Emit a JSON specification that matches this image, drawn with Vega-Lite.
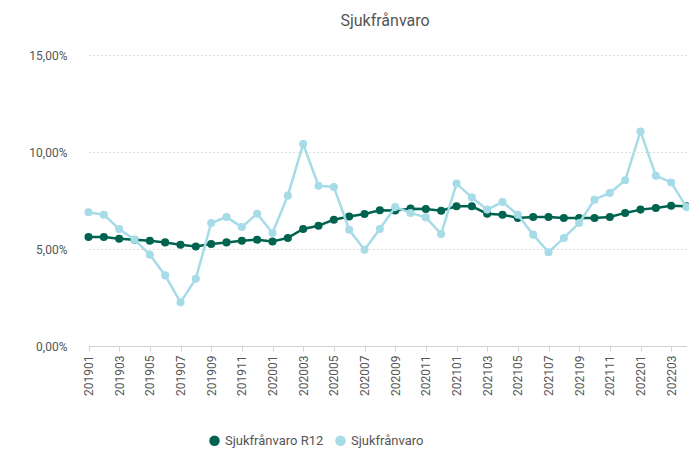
{
  "$schema": "https://vega.github.io/schema/vega-lite/v6.json",
  "width": 608,
  "height": 291,
  "autosize": {"type": "none"},
  "padding": {"left": 81, "top": 55, "right": 0, "bottom": 115},
  "background": "white",
  "title": {"text": "Sjukfrånvaro", "anchor": "middle", "frame": "group", "fontSize": 16, "fontWeight": "normal", "color": "#555555", "font": "Roboto", "offset": 20},
  "config": {"view": {"stroke": null}, "font": "Roboto"},
  "datasets": {
    "r12": [
      {"m": "201901", "v": 5.62}, {"m": "201902", "v": 5.62}, {"m": "201903", "v": 5.53}, {"m": "201904", "v": 5.48},
      {"m": "201905", "v": 5.43}, {"m": "201906", "v": 5.34}, {"m": "201907", "v": 5.22}, {"m": "201908", "v": 5.13},
      {"m": "201909", "v": 5.26}, {"m": "201910", "v": 5.34}, {"m": "201911", "v": 5.43}, {"m": "201912", "v": 5.48},
      {"m": "202001", "v": 5.39}, {"m": "202002", "v": 5.57}, {"m": "202003", "v": 6.03}, {"m": "202004", "v": 6.2},
      {"m": "202005", "v": 6.51}, {"m": "202006", "v": 6.68}, {"m": "202007", "v": 6.8}, {"m": "202008", "v": 7.0},
      {"m": "202009", "v": 6.98}, {"m": "202010", "v": 7.08}, {"m": "202011", "v": 7.06}, {"m": "202012", "v": 6.97},
      {"m": "202101", "v": 7.2}, {"m": "202102", "v": 7.2}, {"m": "202103", "v": 6.82}, {"m": "202104", "v": 6.77},
      {"m": "202105", "v": 6.6}, {"m": "202106", "v": 6.65}, {"m": "202107", "v": 6.65}, {"m": "202108", "v": 6.6},
      {"m": "202109", "v": 6.6}, {"m": "202110", "v": 6.6}, {"m": "202111", "v": 6.65}, {"m": "202112", "v": 6.86},
      {"m": "202201", "v": 7.03}, {"m": "202202", "v": 7.11}, {"m": "202203", "v": 7.23}, {"m": "202204", "v": 7.2}
    ],
    "sf": [
      {"m": "201901", "v": 6.89}, {"m": "201902", "v": 6.77}, {"m": "201903", "v": 6.03}, {"m": "201904", "v": 5.48},
      {"m": "201905", "v": 4.71}, {"m": "201906", "v": 3.64}, {"m": "201907", "v": 2.25}, {"m": "201908", "v": 3.47},
      {"m": "201909", "v": 6.34}, {"m": "201910", "v": 6.65}, {"m": "201911", "v": 6.13}, {"m": "201912", "v": 6.82},
      {"m": "202001", "v": 5.82}, {"m": "202002", "v": 7.75}, {"m": "202003", "v": 10.41}, {"m": "202004", "v": 8.26},
      {"m": "202005", "v": 8.2}, {"m": "202006", "v": 5.99}, {"m": "202007", "v": 4.96}, {"m": "202008", "v": 6.03},
      {"m": "202009", "v": 7.16}, {"m": "202010", "v": 6.86}, {"m": "202011", "v": 6.63}, {"m": "202012", "v": 5.77},
      {"m": "202101", "v": 8.37}, {"m": "202102", "v": 7.66}, {"m": "202103", "v": 7.03}, {"m": "202104", "v": 7.42},
      {"m": "202105", "v": 6.77}, {"m": "202106", "v": 5.74}, {"m": "202107", "v": 4.83}, {"m": "202108", "v": 5.57},
      {"m": "202109", "v": 6.34}, {"m": "202110", "v": 7.54}, {"m": "202111", "v": 7.89}, {"m": "202112", "v": 8.54},
      {"m": "202201", "v": 11.06}, {"m": "202202", "v": 8.78}, {"m": "202203", "v": 8.43}, {"m": "202204", "v": 7.16}
    ]
  },
  "encoding": {
    "x": {
      "field": "m", "type": "ordinal", "sort": null,
      "scale": {"type": "point", "padding": 0, "range": [7.5, 605.5]},
      "axis": {
        "title": null, "labelAngle": -90, "labelFontSize": 12, "labelColor": "#555555",
        "values": ["201901","201903","201905","201907","201909","201911","202001","202003","202005","202007","202009","202011","202101","202103","202105","202107","202109","202111","202201","202203"],
        "domainColor": "#d0d0d0", "tickColor": "#d0d0d0", "tickSize": 5, "labelPadding": 4, "grid": false, "labelOverlap": false, "labelFont": "Roboto"
      }
    },
    "y": {
      "field": "v", "type": "quantitative",
      "scale": {"domain": [0, 15], "nice": false},
      "axis": {
        "title": null, "values": [0, 5, 10, 15], "domain": false, "ticks": false,
        "labelExpr": "replace(format(datum.value, '.2f'), '.', ',') + '%'",
        "labelFontSize": 12, "labelColor": "#555555", "labelPadding": 14, "labelFont": "Roboto",
        "grid": true, "gridColor": "#dddddd", "gridDash": [2, 2], "gridWidth": 1
      }
    },
    "color": {
      "field": "s", "type": "nominal",
      "scale": {"domain": ["Sjukfrånvaro R12", "Sjukfrånvaro"], "range": ["#00634f", "#a6dbe8"]},
      "legend": {
        "title": null, "orient": "none", "direction": "horizontal", "legendX": 127, "legendY": 379,
        "symbolType": "circle", "symbolSize": 110, "symbolOpacity": 1, "symbolStrokeWidth": 0,
        "labelFontSize": 13, "labelColor": "#555555", "labelFont": "Roboto", "columnPadding": 10
      }
    }
  },
  "layer": [
    {
      "data": {"name": "r12"},
      "transform": [{"calculate": "'Sjukfrånvaro R12'", "as": "s"}],
      "mark": {"type": "line", "strokeWidth": 2.5, "point": {"filled": true, "size": 65, "opacity": 1}}
    },
    {
      "data": {"name": "sf"},
      "transform": [{"calculate": "'Sjukfrånvaro'", "as": "s"}],
      "mark": {"type": "line", "strokeWidth": 2.5, "point": {"filled": true, "size": 65, "opacity": 1}}
    }
  ]
}
